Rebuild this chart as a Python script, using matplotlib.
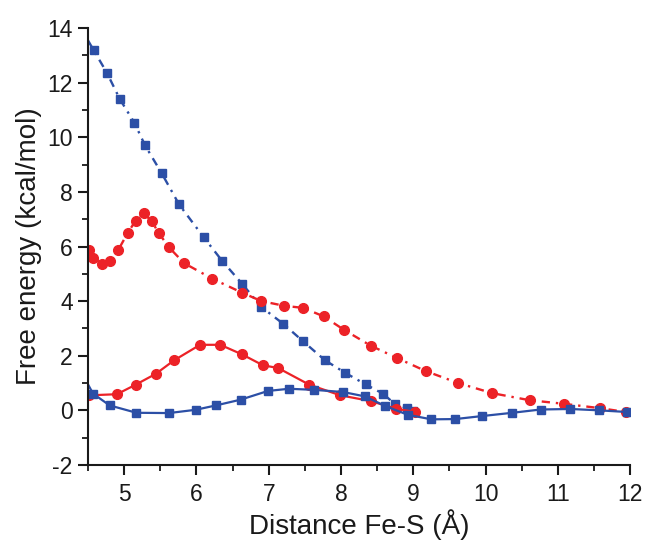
import matplotlib
matplotlib.use('Agg')
import matplotlib.pyplot as plt
from matplotlib.ticker import MultipleLocator

plt.rcParams['font.family'] = ['Liberation Sans', 'DejaVu Sans']
plt.rcParams['axes.unicode_minus'] = False

# blue squares, dash-dot curve (first point is line only)
blue_dot_x = [4.50, 4.58, 4.76, 4.94, 5.14, 5.29, 5.52, 5.76, 6.10, 6.36, 6.63, 6.90,
              7.20, 7.47, 7.78, 8.06, 8.34, 8.58, 8.75, 8.91, 9.00]
blue_dot_y = [13.55, 13.18, 12.37, 11.40, 10.54, 9.70, 8.68, 7.54, 6.34, 5.46, 4.64, 3.78,
              3.17, 2.54, 1.83, 1.37, 0.95, 0.61, 0.22, 0.08, -0.04]

# red circles, dash-dot curve
red_dot_x = [4.52, 4.57, 4.69, 4.80, 4.92, 5.05, 5.16, 5.27, 5.38, 5.48, 5.62, 5.83,
             6.22, 6.63, 6.90, 7.21, 7.48, 7.76, 8.04, 8.41, 8.78, 9.17, 9.62, 10.09,
             10.61, 11.08, 11.58, 11.94]
red_dot_y = [5.88, 5.59, 5.37, 5.47, 5.88, 6.50, 6.95, 7.22, 6.93, 6.49, 5.97, 5.39,
             4.82, 4.31, 4.00, 3.83, 3.75, 3.44, 2.95, 2.37, 1.91, 1.44, 1.00, 0.63,
             0.37, 0.24, 0.08, -0.06]

# red circles, solid curve
red_sol_x = [4.52, 4.90, 5.16, 5.44, 5.69, 6.05, 6.33, 6.63, 6.92, 7.13, 7.56, 7.99,
             8.41, 8.76, 9.03]
red_sol_y = [0.55, 0.59, 0.94, 1.34, 1.83, 2.40, 2.40, 2.05, 1.65, 1.55, 0.94, 0.55,
             0.34, 0.06, -0.06]

# blue squares, solid curve (first point is line only)
blue_sol_x = [4.50, 4.57, 4.80, 5.17, 5.62, 5.99, 6.27, 6.61, 6.99, 7.28, 7.63, 8.03,
              8.33, 8.61, 8.92, 9.25, 9.58, 9.95, 10.37, 10.76, 11.17, 11.57, 11.95]
blue_sol_y = [0.95, 0.61, 0.18, -0.09, -0.10, 0.02, 0.18, 0.39, 0.71, 0.79, 0.75, 0.67,
              0.51, 0.16, -0.16, -0.33, -0.32, -0.21, -0.09, 0.03, 0.05, 0.00, -0.06]

blue = '#2c4fa6'
red = '#ec2227'
dashdot = (0, (3.5, 2.5, 1, 2.5))

fig = plt.figure(figsize=(6.47, 5.40), dpi=100)
ax = fig.add_axes([0.136, 0.139, 0.838, 0.809])

ax.plot(blue_dot_x, blue_dot_y, color=blue, ls=dashdot, lw=1.7, marker='s', ms=6,
        markevery=range(1, len(blue_dot_x)))
ax.plot(red_dot_x, red_dot_y, color=red, ls=dashdot, lw=1.7, marker='o', ms=7)
ax.plot(red_sol_x, red_sol_y, color=red, lw=1.6, marker='o', ms=7)
ax.plot(blue_sol_x, blue_sol_y, color=blue, lw=1.6, marker='s', ms=6,
        markevery=range(1, len(blue_sol_x)))

ax.set_xlim(4.5, 12)
ax.set_ylim(-2, 14)
ax.xaxis.set_major_locator(MultipleLocator(1))
ax.xaxis.set_minor_locator(MultipleLocator(0.5))
ax.yaxis.set_major_locator(MultipleLocator(2))
ax.yaxis.set_minor_locator(MultipleLocator(1))

for s in ['top', 'right']:
    ax.spines[s].set_visible(False)
for s in ['left', 'bottom']:
    ax.spines[s].set_linewidth(1.5)
    ax.spines[s].set_color('#1a1a1a')
ax.tick_params(which='major', direction='out', length=7, width=1.5, labelsize=16.5,
               color='#1a1a1a', labelcolor='#1a1a1a')
ax.tick_params(which='minor', direction='out', length=4, width=1.3, color='#1a1a1a')
ax.tick_params(axis='x', pad=6)
ax.tick_params(axis='y', pad=4)

ax.set_xlabel('Distance Fe-S (Å)', fontsize=20, labelpad=2, color='#1a1a1a')
ax.set_ylabel('Free energy (kcal/mol)', fontsize=20, labelpad=4, color='#1a1a1a')

fig.savefig('out.png', dpi=100)
